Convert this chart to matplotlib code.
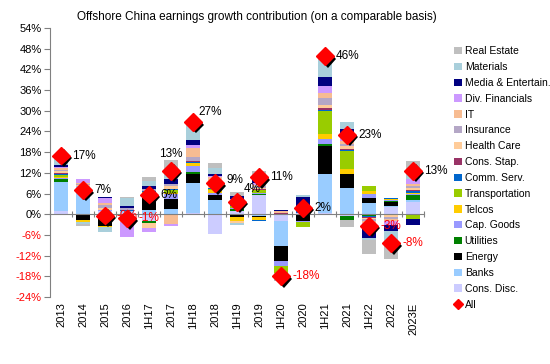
import numpy as np
import matplotlib
matplotlib.use('Agg')
import matplotlib.pyplot as plt
import matplotlib.patheffects as pe
from matplotlib.patches import Patch
from matplotlib.lines import Line2D

plt.rcParams['font.family'] = ['Liberation Sans', 'DejaVu Sans']

periods = ['2013', '2014', '2015', '2016', '1H17', '2017', '1H18', '2018', '1H19',
           '2019', '1H20', '2020', '1H21', '2021', '1H22', '2022', '2023E']

# sector contributions (ppt), bottom of stack first
cons_disc = [1.0, 0, 1.0, 0.4, -2.0, -0.3, 0.5, -5.8, 0.9, 5.5, -2.0, 0.3, 0.4, -0.6, 0, 2.0, 3.6]
banks = [8.4, 8.2, 0, 0.6, 1.1, 1.5, 8.7, 4.1, 0, -0.4, -7.2, 0, 11.3, 7.7, 3.2, 0.5, 0.6]
energy = [-0.3, -1.7, -3.4, 0, 4.3, 2.9, 2.4, 1.4, -0.8, -0.3, -4.3, -2.0, 8.0, 4.1, 1.6, 1.0, -0.2]
utilities = [0.7, 0, 0, 0, -0.6, 0, 0.7, 0.1, 0.5, 0.4, 0, 0, 0.8, -1.0, -0.6, 0.4, 1.3]
cap_goods = [0.4, 0, 0.3, -0.6, 0.6, 1.4, 1.7, 0.5, 0.5, 0.4, -1.5, -0.3, 1.4, 0, 1.0, 0.3, 0.4]
telcos = [0.4, -0.5, -0.3, 0, 0, 0.5, 1.0, 1.0, -1.2, -1.0, 0, 0, 1.4, 1.3, 1.0, 0.3, 0.4]
transport = [0.5, 0, 0, -0.5, 0.5, 0.7, -0.2, 0.2, 0.4, 0.6, -1.9, -1.5, 6.6, 5.3, 1.4, -0.3, -1.3]
comm_serv = [0.3, 0, 0, 0.2, 0.3, 0.2, 0.2, 0.2, 0.3, -0.2, 0.1, 0.5, 0.3, 0.2, -0.2, 0.2, 0.3]
cons_stap = [0.4, 0, 0, 0, 0, 0.2, 0.15, 0.2, 0, 0.3, 0.2, 0, 0.5, 0.2, -0.2, 0, 0.3]
health_care = [0.4, 0.3, 0.6, -0.6, -1.5, 0.9, 0.15, 0.5, -0.5, 0.4, 0.2, 0.4, 1.0, 1.0, -0.5, -0.5, 0.6]
insurance = [0.4, 0.4, 0.7, 0.5, 0.5, 0.4, 1.0, 0.5, 0.5, 0.5, 0, 0, 1.9, 0.5, -0.4, -0.6, 0.6]
it = [0.4, 0.3, 0.6, -0.5, 0, -2.6, 2.6, 2.0, 0.4, 0.4, 0.3, 0.3, 1.6, 1.0, -0.5, -0.6, 0.6]
div_fin = [0.4, 0.9, 1.5, -4.3, -1.1, -0.5, 1.0, 0.4, 1.0, 0.7, 0.2, 1.0, 1.9, 1.0, -0.9, -1.0, 1.5]
media = [0.5, 0, 0.3, 0.6, 1.0, 1.4, 1.3, 0.5, 0.8, 0.6, 0.3, 2.6, 2.7, 2.4, -3.7, -2.0, -1.5]
materials = [1.9, -0.6, -1.4, 2.5, 1.4, 3.2, 4.3, 1.7, -0.5, 1.6, 0, 0.4, 4.8, 2.1, -0.4, -3.0, 2.6]
real_estate = [1.0, -0.6, 0, 0.3, 1.2, 2.4, 1.0, 1.7, 1.2, 1.0, -2.4, 0, 1.2, -2.2, -4.2, -5.0, 2.6]

all_growth = [17, 7, -0.4, -1.2, 5.7, 12.6, 26.7, 9, 3.6, 10.7, -18, 1.9, 45.8, 23, -3.4, -8.4, 12.6]

sectors = [
    ('Cons. Disc.', cons_disc, '#CCCCFF'),
    ('Banks', banks, '#99CCFF'),
    ('Energy', energy, '#000000'),
    ('Utilities', utilities, '#008000'),
    ('Cap. Goods', cap_goods, '#9999FF'),
    ('Telcos', telcos, '#FFCC00'),
    ('Transportation', transport, '#99CC00'),
    ('Comm. Serv.', comm_serv, '#0066CC'),
    ('Cons. Stap.', cons_stap, '#993366'),
    ('Health Care', health_care, '#FFCC99'),
    ('Insurance', insurance, '#B4A7C6'),
    ('IT', it, '#F7BC92'),
    ('Div. Financials', div_fin, '#CC99FF'),
    ('Media & Entertain.', media, '#000080'),
    ('Materials', materials, '#A9CFDB'),
    ('Real Estate', real_estate, '#BFBFBF'),
]

fig = plt.figure(figsize=(5.5, 3.64), dpi=100)
ax = fig.add_axes([50/550, 1-297/364, 374/550, 269/364])

x = np.arange(len(periods))
pos_base = np.zeros(len(periods))
neg_base = np.zeros(len(periods))
for name, vals, col in sectors:
    v = np.array(vals, dtype=float)
    p = np.where(v > 0, v, 0)
    n = np.where(v < 0, v, 0)
    ax.bar(x, p, 0.68, bottom=pos_base, color=col, zorder=2, linewidth=0)
    ax.bar(x, n, 0.68, bottom=neg_base, color=col, zorder=2, linewidth=0)
    pos_base += p
    neg_base += n

ax.plot(x, all_growth, linestyle='none', marker='D', ms=9, color='#FF0000',
        zorder=5, path_effects=[pe.SimplePatchShadow(offset=(1.8, -1.8), shadow_rgbFace='black', alpha=1), pe.Normal()])

# label offsets in points (default: right of marker)
offsets = {'2017': (0, 12, 'center'), '1H18': (4, 7, 'left'), '1H19': (5, 9, 'left'), '2018': (8, 2, 'left')}
for xi, p, v in zip(x, periods, all_growth):
    dx, dy, ha = offsets.get(p, (8, 0, 'left'))
    ax.annotate(f'{v:.0f}%', (xi, v), xytext=(dx, dy), textcoords='offset points',
                ha=ha, va='center', fontsize=8.5, color='#FF0000' if v < 0 else 'black', zorder=4)

ax.set_xlim(-0.5, len(periods) - 0.5)
ax.set_ylim(-24, 54)
ax.set_yticks(np.arange(-24, 55, 6))
ax.set_yticklabels([f'{t}%' for t in range(-24, 55, 6)])
for lab, t in zip(ax.get_yticklabels(), range(-24, 55, 6)):
    if t < 0:
        lab.set_color('#FF0000')
ax.tick_params(axis='y', labelsize=8, length=4, color='#808080', pad=2)
ax.set_xticks(x)
ax.set_xticklabels(periods, rotation=90, fontsize=8)
ax.tick_params(axis='x', length=0, pad=4)
for s in ['top', 'right', 'bottom']:
    ax.spines[s].set_visible(False)
ax.spines['left'].set_color('#808080')

sec = ax.secondary_xaxis(24/78)
sec.set_zorder(3)
sec.set_xticks(np.arange(len(periods) + 1) - 0.5)
sec.set_xticklabels([])
sec.tick_params(direction='inout', length=4, color='#808080')
sec.spines['bottom'].set_color('#808080')
sec.spines['top'].set_color('#808080')

handles = [Patch(facecolor=c, label=n) for n, _, c in sectors[::-1]]
handles.append(Line2D([], [], linestyle='none', marker='D', ms=5, color='#FF0000', label='All'))
fig.legend(handles=handles, loc='upper left', bbox_to_anchor=(449/550, 1-41/364), frameon=False,
           fontsize=7.5, handlelength=0.7, handleheight=0.7, handletextpad=0.3, labelspacing=0.56, borderpad=0)

fig.text(257/550, 1-17/364, 'Offshore China earnings growth contribution (on a comparable basis)',
         ha='center', va='center', fontsize=8.5)

fig.savefig('out.png', dpi=100)
